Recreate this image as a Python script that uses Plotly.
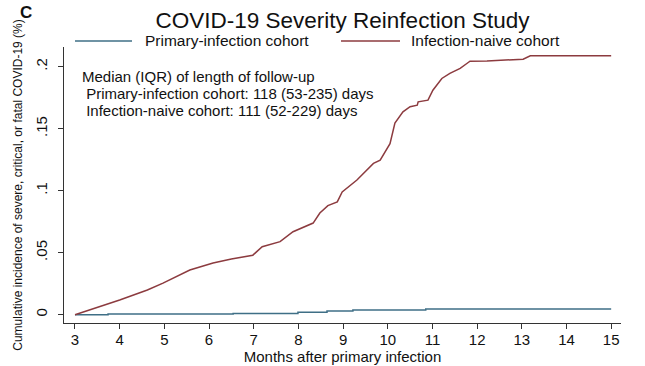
import plotly.graph_objects as go

# Primary-infection cohort (step curve)
primary_months = [3.0, 3.74, 6.54, 7.99, 8.64, 9.22, 10.85, 15.0]
primary_values = [0.0, 0.0005, 0.001, 0.0019, 0.003, 0.0038, 0.0046, 0.0046]

# Infection-naive cohort
naive_months = [3.0, 3.5, 4.0, 4.62, 4.97, 5.57, 6.09, 6.5, 6.98, 7.19, 7.59, 7.88, 8.33, 8.48,
                8.66, 8.87, 8.98, 9.31, 9.68, 9.83, 10.05, 10.16, 10.34, 10.5, 10.66,
                10.68, 10.9, 11.01, 11.21, 11.39, 11.62, 11.77, 11.84, 12.22, 13.03,
                13.19, 15.0]
naive_values = [0.0, 0.006, 0.0118, 0.0199, 0.0255, 0.036, 0.0417, 0.045, 0.048, 0.0548, 0.0589,
                0.0669, 0.0739, 0.082, 0.088, 0.091, 0.099, 0.1086, 0.122, 0.1247,
                0.138, 0.1546, 0.1636, 0.1677, 0.169, 0.1717, 0.173, 0.181, 0.1905,
                0.1946, 0.1986, 0.2026, 0.2045, 0.2047, 0.206, 0.2088, 0.2088]

series_names = ["Primary-infection cohort", "Infection-naive cohort"]
note_lines = ["Median (IQR) of length of follow-up",
              "\u00a0Primary-infection cohort: 118 (53-235) days",
              "\u00a0Infection-naive cohort: 111 (52-229) days"]

x_ticks = list(range(3, 16))
y_ticks = [0, 0.05, 0.1, 0.15, 0.2]
y_tick_labels = ["0", ".05", ".1", ".15", ".2"]

blue = "#3f6f86"
red = "#8c3b3f"
font = "Liberation Sans, Arial, sans-serif"

fig = go.Figure()
fig.add_trace(go.Scatter(x=primary_months, y=primary_values, mode="lines",
                         line=dict(color=blue, width=1.5, shape="hv"),
                         name=series_names[0]))
fig.add_trace(go.Scatter(x=naive_months, y=naive_values, mode="lines",
                         line=dict(color=red, width=1.5),
                         name=series_names[1]))

fig.update_layout(
    width=645, height=366,
    margin=dict(l=64, r=24, t=47, b=43, autoexpand=False),
    paper_bgcolor="white", plot_bgcolor="white",
    font=dict(family=font, color="#111111", size=14),
    showlegend=False,
    title=dict(text="COVID-19 Severity Reinfection Study", xref="paper", x=0.5, xanchor="center",
               yref="container", y=1 - 20.5 / 366, yanchor="middle",
               font=dict(size=22.5, family=font, color="#111111")),
    xaxis=dict(range=[2.754, 15.22], tickvals=x_ticks, ticks="outside", ticklen=5,
               tickcolor="#333", showline=True, linecolor="#333", linewidth=1.2,
               showgrid=False, zeroline=False, tickfont=dict(size=15), automargin=False,
               ticklabelstandoff=-2,
               title=dict(text="Months after primary infection", font=dict(size=15), standoff=0)),
    yaxis=dict(range=[-0.0067, 0.2159], tickvals=y_ticks, ticktext=y_tick_labels,
               ticks="outside", ticklen=5, tickcolor="#333", showline=True, linecolor="#333",
               linewidth=1.2, showgrid=False, zeroline=False, tickangle=-90,
               tickfont=dict(size=15), automargin=False, ticklabelstandoff=5,
               title=dict(text="Cumulative incidence of severe, critical, or fatal COVID-19 (%)",
                          font=dict(size=12), standoff=7)),
)

# manual legend above the plot
legend_y = (323 - 41) / 276
legend_items = [(series_names[0], blue, (75 - 64) / 557, (132 - 64) / 557, (144 - 64) / 557),
                (series_names[1], red, (341 - 64) / 557, (400 - 64) / 557, (410 - 64) / 557)]
for name, color, x0, x1, xt in legend_items:
    fig.add_shape(type="line", xref="paper", yref="paper", x0=x0, x1=x1,
                  y0=legend_y, y1=legend_y, line=dict(color=color, width=1.5))
    fig.add_annotation(text=name, xref="paper", yref="paper", x=xt, y=legend_y,
                       xanchor="left", yanchor="middle", showarrow=False, borderpad=0,
                       font=dict(size=15.5, family=font, color="#111"))

fig.add_annotation(text="<b>C</b>", xref="paper", yref="paper", x=-0.083, y=(323 - 12) / 276,
                   xanchor="left", yanchor="middle", showarrow=False,
                   font=dict(size=17, family=font, color="#111"))

note_centers = [76, 93, 110]
for line, yc in zip(note_lines, note_centers):
    fig.add_annotation(text=line, xref="paper", yref="paper", x=(81 - 64) / 557,
                       y=(323 - yc) / 276, xanchor="left", yanchor="middle", align="left",
                       showarrow=False, borderpad=0,
                       font=dict(size=15, family=font, color="#111"))

fig.write_html("out.html", config={"displayModeBar": False},
               post_script="document.body.style.margin='0';")
